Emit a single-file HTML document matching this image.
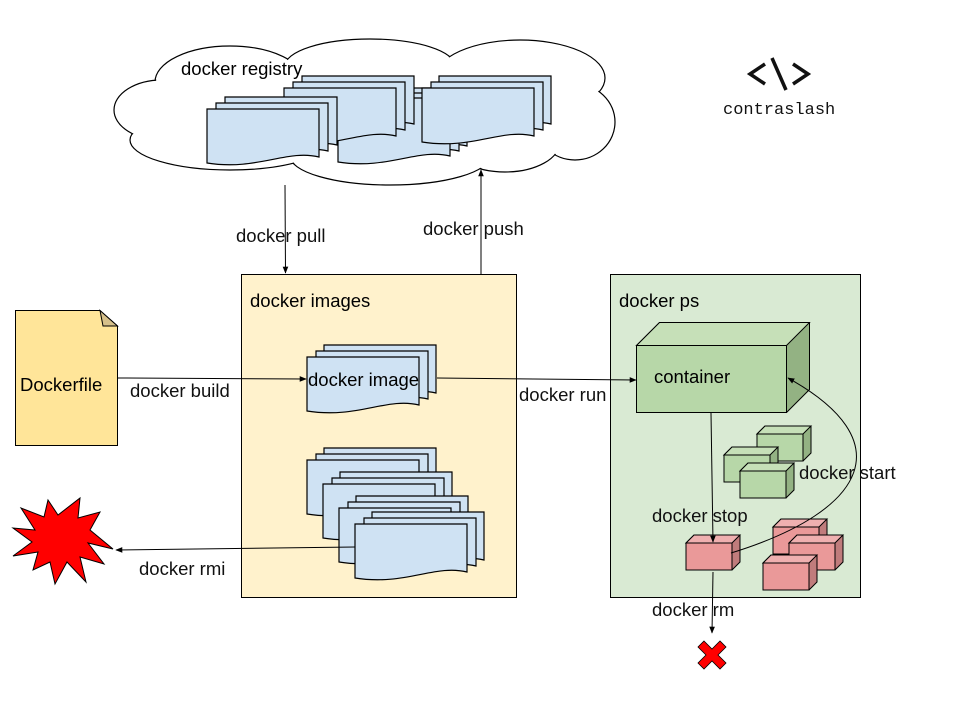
<!DOCTYPE html>
<html><head><meta charset="utf-8"><style>
html,body{margin:0;padding:0;background:#fff;}
svg{display:block;font-family:"Liberation Sans",Arial,sans-serif;}
</style></head><body>
<svg width="960" height="720" viewBox="0 0 960 720" xmlns="http://www.w3.org/2000/svg">
<defs>
<path id="doc" d="M0,0 H112 V48 C80,40 50,62 0,54 Z" fill="#cfe2f3" stroke="#000" stroke-width="1.2"/>
<path id="docL" d="M0,0 H112 V58 C80,50 50,72 0,64 Z" fill="#cfe2f3" stroke="#000" stroke-width="1.2"/>
<marker id="ar" viewBox="0 0 10 10" refX="9" refY="5" markerWidth="7" markerHeight="7" orient="auto"><path d="M0,1 L10,5 L0,9 Z" fill="#000"/></marker>
<g id="gcube"><path d="M0,8 L8,0 H54 V27 L46,35 Z" fill="#93b283" stroke="#000"/><path d="M0,8 L8,0 H54 L46,8 Z" fill="#c6e0b8" stroke="#000"/><rect x="0" y="8" width="46" height="27" fill="#b7d7a8" stroke="#000"/></g>
<g id="rcube"><path d="M0,8 L8,0 H54 V27 L46,35 Z" fill="#c07c7c" stroke="#000"/><path d="M0,8 L8,0 H54 L46,8 Z" fill="#efb0b0" stroke="#000"/><rect x="0" y="8" width="46" height="27" fill="#ea9999" stroke="#000"/></g>
</defs>

<!-- cloud -->
<g stroke="#000" stroke-width="1.2" fill="#fff">
<ellipse cx="230" cy="82" rx="75" ry="36"/>
<ellipse cx="370" cy="66" rx="85" ry="27"/>
<ellipse cx="520" cy="78" rx="85" ry="38"/>
<ellipse cx="575" cy="122" rx="40" ry="38"/>
<ellipse cx="505" cy="142" rx="55" ry="30"/>
<ellipse cx="390" cy="156" rx="100" ry="29"/>
<ellipse cx="230" cy="140" rx="100" ry="30"/>
<ellipse cx="162" cy="110" rx="48" ry="30"/>
</g>
<g fill="#fff">
<ellipse cx="230" cy="82" rx="74" ry="35"/>
<ellipse cx="370" cy="66" rx="84" ry="26"/>
<ellipse cx="520" cy="78" rx="84" ry="37"/>
<ellipse cx="575" cy="122" rx="39" ry="37"/>
<ellipse cx="505" cy="142" rx="54" ry="29"/>
<ellipse cx="390" cy="156" rx="99" ry="28"/>
<ellipse cx="230" cy="140" rx="99" ry="29"/>
<ellipse cx="162" cy="110" rx="47" ry="29"/>
<ellipse cx="360" cy="110" rx="215" ry="50"/>
</g>
<text x="181" y="75" font-size="18.5">docker registry</text>

<!-- registry docs -->
<use href="#docL" x="355" y="88"/>
<use href="#docL" x="347" y="93"/>
<use href="#docL" x="338" y="98"/>
<use href="#doc" x="302" y="76"/>
<use href="#doc" x="293" y="82"/>
<use href="#doc" x="284" y="88"/>
<use href="#doc" x="439" y="76"/>
<use href="#doc" x="431" y="82"/>
<use href="#doc" x="422" y="88"/>
<use href="#doc" x="225" y="97"/>
<use href="#doc" x="216" y="103"/>
<use href="#doc" x="207" y="109"/>

<!-- logo -->
<g stroke="#111" stroke-width="3.5" fill="none">
<path d="M765,64 L750,74 L765,84"/>
<path d="M772,58 L786,90"/>
<path d="M793,64 L808,74 L793,84"/>
</g>
<text x="723" y="114" font-size="17" font-family="'Liberation Mono',monospace" fill="#111">contraslash</text>

<!-- images box -->
<rect x="241.5" y="274.5" width="275" height="323" fill="#fff2cc" stroke="#000"/>
<text x="250" y="307" font-size="18.5">docker images</text>
<!-- ps box -->
<rect x="610.5" y="274.5" width="250" height="323" fill="#d9ead3" stroke="#000"/>
<text x="619" y="307" font-size="18.5">docker ps</text>

<!-- docker image stack -->
<use href="#doc" x="324" y="345"/>
<use href="#doc" x="316" y="351"/>
<use href="#doc" x="307" y="357"/>
<text x="308" y="386" font-size="18.5">docker image</text>

<!-- image stacks -->
<use href="#doc" x="324" y="448"/><use href="#doc" x="316" y="454"/><use href="#doc" x="307" y="460"/>
<use href="#doc" x="340" y="472"/><use href="#doc" x="332" y="478"/><use href="#doc" x="323" y="484"/>
<use href="#doc" x="356" y="496"/><use href="#doc" x="348" y="502"/><use href="#doc" x="339" y="508"/>
<use href="#doc" x="372" y="512"/><use href="#doc" x="364" y="518"/><use href="#doc" x="355" y="524"/>

<!-- Dockerfile -->
<path d="M15.5,310.5 H100 L117.5,326 V445.5 H15.5 Z" fill="#ffe599" stroke="#000"/>
<path d="M100,310.5 L117.5,326 H103 Z" fill="#d6c08a" stroke="#000"/>
<text x="20" y="391" font-size="18.5">Dockerfile</text>

<!-- explosion -->
<polygon points="113,549 88,543 104,564 80,557 86,582 67,562 55,584 50,562 33,570 38,552 13,556 32,542 13,528 35,530 21,508 44,517 48,500 58,515 80,498 78,518 100,512 90,530" fill="#ff0000" stroke="#000"/>

<!-- container -->
<path d="M636.5,345.5 L659.5,322.5 H809.5 V389.5 L786.5,412.5 Z" fill="#93b283" stroke="#000"/>
<path d="M636.5,345.5 L659.5,322.5 H809.5 L786.5,345.5 Z" fill="#c6e0b8" stroke="#000"/>
<rect x="636.5" y="345.5" width="150" height="67" fill="#b7d7a8" stroke="#000"/>
<text x="654" y="383" font-size="18.5">container</text>

<use href="#gcube" x="757" y="426"/>
<use href="#gcube" x="724" y="447"/>
<use href="#gcube" x="740" y="463"/>
<use href="#rcube" x="773" y="519"/>
<use href="#rcube" x="789" y="535"/>
<use href="#rcube" x="763" y="555"/>
<use href="#rcube" x="686" y="535"/>

<!-- connectors -->
<g stroke="#000" stroke-width="1" fill="none">
<line x1="285" y1="185" x2="285.5" y2="273" marker-end="url(#ar)"/>
<line x1="481" y1="274" x2="481" y2="170" marker-end="url(#ar)"/>
<line x1="117" y1="378" x2="306" y2="379" marker-end="url(#ar)"/>
<line x1="437" y1="378" x2="636" y2="380" marker-end="url(#ar)"/>
<line x1="355" y1="547" x2="116" y2="550" marker-end="url(#ar)"/>
<line x1="711" y1="413" x2="713" y2="542" marker-end="url(#ar)"/>
<line x1="713" y1="572" x2="712" y2="633" marker-end="url(#ar)"/>
<path d="M731,553 C870,510 900,440 788,378" marker-end="url(#ar)"/>
</g>

<!-- X -->
<path d="M704,641 L712,649 L720,641 L726,647 L718,655 L726,663 L720,669 L712,661 L704,669 L698,663 L706,655 L698,647 Z" fill="#ff0000" stroke="#000" stroke-width="0.8"/>

<g font-size="18.5" fill="#111">
<text x="236" y="242">docker pull</text>
<text x="423" y="235">docker push</text>
<text x="130" y="397">docker build</text>
<text x="519" y="401">docker run</text>
<text x="799" y="479">docker start</text>
<text x="652" y="522">docker stop</text>
<text x="139" y="575">docker rmi</text>
<text x="652" y="616">docker rm</text>
</g>
</svg>
</body></html>
